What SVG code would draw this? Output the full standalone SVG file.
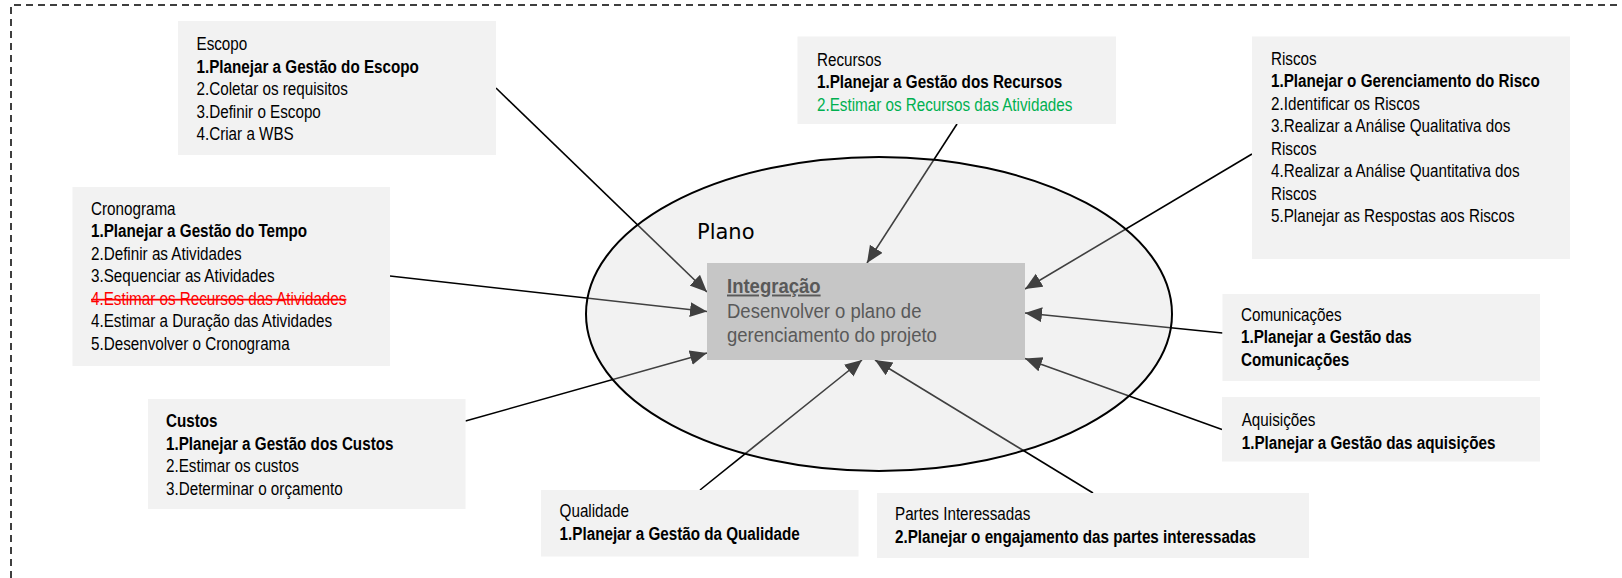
<svg xmlns="http://www.w3.org/2000/svg" width="1622" height="578" viewBox="0 0 1622 578">
<style>
.box{fill:#f2f2f2}
.t{font-family:"Liberation Sans",Arial,sans-serif;font-size:17.5px;fill:#000}
.b{font-weight:bold}
.g{fill:#00b050}
.r{fill:#ff0000;text-decoration:line-through}
.conn{stroke:#000;stroke-width:1.6;fill:none;marker-end:url(#ah)}
.it{font-family:"Liberation Sans",Arial,sans-serif;font-size:19.5px;fill:#595959}
</style>
<defs>
<marker id="ah" markerUnits="userSpaceOnUse" markerWidth="18" markerHeight="16" refX="17" refY="7.5" orient="auto">
<path d="M0,0 L17,7.5 L0,15 z" fill="#000"/>
</marker>
</defs>
<rect width="1622" height="578" fill="#fff"/>
<path d="M11,578 L11,5 L1622,5" fill="none" stroke="#000" stroke-width="1.5" stroke-dasharray="7,5"/>

<g id="connectors">
<path class="conn" d="M496,88 L707,292"/>
<path class="conn" d="M390,276 L707,311.5"/>
<path class="conn" d="M465.5,421 L707,353"/>
<path class="conn" d="M957,124 L867,263"/>
<path class="conn" d="M1252,154 L1025,289"/>
<path class="conn" d="M1222.5,333 L1025,313"/>
<path class="conn" d="M1222,429.5 L1025,358.5"/>
<path class="conn" d="M700,490 L862,360"/>
<path class="conn" d="M1093,493 L875,360"/>
</g>

<g id="plano">
<ellipse cx="879" cy="314" rx="293" ry="157" fill="#d4d4d4" fill-opacity="0.3" stroke="#000" stroke-width="2"/>
<text x="697" y="239" font-family="'DejaVu Sans',sans-serif" font-size="21" fill="#000">Plano</text>
</g>

<g id="integracao">
<rect x="707" y="263" width="318" height="97" fill="#c6c6c6"/>
<text class="it" transform="translate(727,0) scale(0.95,1)">
<tspan x="0" y="293.5" font-weight="bold" text-decoration="underline">Integração</tspan>
<tspan x="0" y="318">Desenvolver o plano de</tspan>
<tspan x="0" y="342.5">gerenciamento do projeto</tspan>
</text>
</g>

<g id="escopo">
<rect class="box" x="178" y="21" width="318" height="134"/>
<text class="t" transform="translate(196.5,0) scale(0.87,1)">
<tspan x="0" y="50.5">Escopo</tspan>
<tspan x="0" y="73" class="b">1.Planejar a Gestão do Escopo</tspan>
<tspan x="0" y="95.5">2.Coletar os requisitos</tspan>
<tspan x="0" y="118">3.Definir o Escopo</tspan>
<tspan x="0" y="140.5">4.Criar a WBS</tspan>
</text>
</g>

<g id="recursos">
<rect class="box" x="797.5" y="36.5" width="318.5" height="87.5"/>
<text class="t" transform="translate(817,0) scale(0.87,1)">
<tspan x="0" y="66">Recursos</tspan>
<tspan x="0" y="88.5" class="b">1.Planejar a Gestão dos Recursos</tspan>
<tspan x="0" y="111" class="g">2.Estimar os Recursos das Atividades</tspan>
</text>
</g>

<g id="riscos">
<rect class="box" x="1252" y="36.5" width="318" height="222.5"/>
<text class="t" transform="translate(1271,0) scale(0.87,1)">
<tspan x="0" y="65">Riscos</tspan>
<tspan x="0" y="87.5" class="b">1.Planejar o Gerenciamento do Risco</tspan>
<tspan x="0" y="110">2.Identificar os Riscos</tspan>
<tspan x="0" y="132.5">3.Realizar a Análise Qualitativa dos</tspan>
<tspan x="0" y="155">Riscos</tspan>
<tspan x="0" y="177.5">4.Realizar a Análise Quantitativa dos</tspan>
<tspan x="0" y="200">Riscos</tspan>
<tspan x="0" y="222.5">5.Planejar as Respostas aos Riscos</tspan>
</text>
</g>

<g id="cronograma">
<rect class="box" x="72.5" y="187" width="317.5" height="179"/>
<text class="t" transform="translate(91,0) scale(0.87,1)">
<tspan x="0" y="215">Cronograma</tspan>
<tspan x="0" y="237.5" class="b">1.Planejar a Gestão do Tempo</tspan>
<tspan x="0" y="260">2.Definir as Atividades</tspan>
<tspan x="0" y="282.5">3.Sequenciar as Atividades</tspan>
<tspan x="0" y="305" class="r">4.Estimar os Recursos das Atividades</tspan>
<tspan x="0" y="327.5">4.Estimar a Duração das Atividades</tspan>
<tspan x="0" y="350">5.Desenvolver o Cronograma</tspan>
</text>
</g>

<g id="custos">
<rect class="box" x="148" y="399" width="317.5" height="110"/>
<text class="t" transform="translate(166,0) scale(0.87,1)">
<tspan x="0" y="427.5" class="b">Custos</tspan>
<tspan x="0" y="450" class="b">1.Planejar a Gestão dos Custos</tspan>
<tspan x="0" y="472.5">2.Estimar os custos</tspan>
<tspan x="0" y="495">3.Determinar o orçamento</tspan>
</text>
</g>

<g id="comunicacoes">
<rect class="box" x="1222.5" y="294" width="317.5" height="87"/>
<text class="t" transform="translate(1241,0) scale(0.87,1)">
<tspan x="0" y="321">Comunicações</tspan>
<tspan x="0" y="343.5" class="b">1.Planejar a Gestão das</tspan>
<tspan x="0" y="366" class="b">Comunicações</tspan>
</text>
</g>

<g id="aquisicoes">
<rect class="box" x="1222" y="397" width="318" height="64.5"/>
<text class="t" transform="translate(1241.7,0) scale(0.87,1)">
<tspan x="0" y="426.5">Aquisições</tspan>
<tspan x="0" y="449" class="b">1.Planejar a Gestão das aquisições</tspan>
</text>
</g>

<g id="qualidade">
<rect class="box" x="541" y="490" width="317.5" height="66.5"/>
<text class="t" transform="translate(559.6,0) scale(0.87,1)">
<tspan x="0" y="517.5">Qualidade</tspan>
<tspan x="0" y="540" class="b">1.Planejar a Gestão da Qualidade</tspan>
</text>
</g>

<g id="partes">
<rect class="box" x="877" y="493" width="432" height="65"/>
<text class="t" transform="translate(895,0) scale(0.87,1)">
<tspan x="0" y="520.5">Partes Interessadas</tspan>
<tspan x="0" y="543" class="b">2.Planejar o engajamento das partes interessadas</tspan>
</text>
</g>
</svg>
